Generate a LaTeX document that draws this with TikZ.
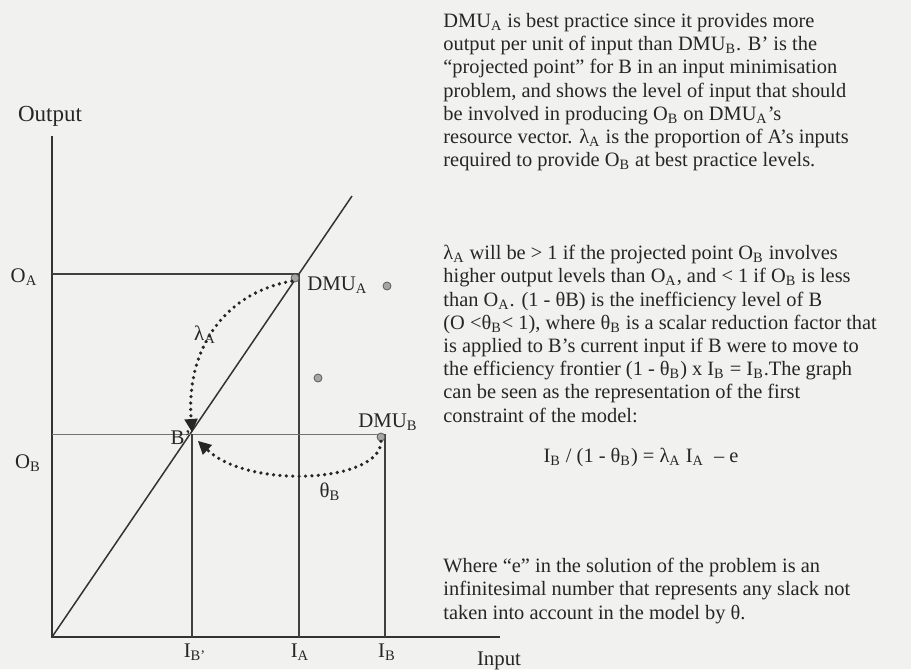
\documentclass[tikz,border=0pt]{standalone}
\usepackage{fontspec}
\setmainfont{Liberation Serif}
\usetikzlibrary{arrows.meta,positioning}
\definecolor{paper}{RGB}{241,241,239}

\begin{document}
\begin{tikzpicture}[x=0.5pt,y=-0.5pt,every node/.style={font=\fontsize{10.4}{12}\selectfont,inner sep=0pt,text=black!85},
  ax/.style={draw=black!80,line width=0.75pt},
  guide/.style={draw=black!75,line width=0.6pt},
  dmu/.style={circle,draw=black!65,fill=black!35,line width=0.4pt,minimum size=4pt},
  move/.style={draw=black!85,line width=1.8pt,dash pattern=on 0pt off 3.2pt,line cap=round,
    -{Triangle[width=6.8pt,length=6.5pt,line width=0pt]}},
  para/.style={anchor=north west,align=left,font=\fontsize{10.2}{11.6}\selectfont}]
  \fill[paper] (0,0) rectangle (911,669);
  % axes and frontier ray
  \coordinate (o) at (52,637); \coordinate (ytop) at (52,136); \coordinate (xend) at (500,637);
  \coordinate (ray) at (352,196);
  \coordinate (cA) at (299,274); \coordinate (cB) at (385,434); \coordinate (bp) at (192,434);
  \draw[ax] (ytop) -- (o) -- (xend);
  \draw[ax] (o) -- (ray);
  \draw[guide] (o |- cA) -- (cA) -- (cA |- o);
  \draw[black!55,line width=0.35pt] (o |- cB) -- (cB);
  \draw[guide] (cB) -- (cB |- o);
  \draw[guide] (bp) -- (bp |- o);
  % units
  \node[dmu] (dmuA) at (295,278) {};
  \node[dmu] (dmuB) at (381,437) {};
  \node[dmu] (dmuC) at (387,286) {};
  \node[dmu] (dmuD) at (318,378) {};
  % projections
  \coordinate (tipL) at (192,432); \coordinate (tipT) at (198,441);
  \draw[move] (dmuA.south west) .. controls (228,292) and (186,345) .. (tipL);
  \draw[move] (dmuB.south) .. controls (381,482) and (250,490) .. (tipT);
  % labels
  \node (outp) at (50,116) {\fontsize{11.5}{13}\selectfont Output};
  \node (inp) at (499,661) {Input};
  \node (oA) at (24,277) {O\textsubscript{A}};
  \node (oB) at (28,463) {O\textsubscript{B}};
  \node[anchor=west] (lA) at (307,285) {DMU\textsubscript{A}};
  \node (lB) at (388,422) {DMU\textsubscript{B}};
  \node (lBp) at (181,438) {B’};
  \node (lam) at (205,335) {λ\textsubscript{A}};
  \node (the) at (330,492) {θ\textsubscript{B}};
  \node (iBp) at (195,652) {I\textsubscript{B’}};
  \node (iA) at (300,652) {I\textsubscript{A}};
  \node (iB) at (387,652) {I\textsubscript{B}};
  % explanation
  \node[para] (t1) at (443,13) {DMU\textsubscript{A} is best practice since it provides more\\
    output per unit of input than DMU\textsubscript{B}. B’ is the\\
    “projected point” for B in an input minimisation\\
    problem, and shows the level of input that should\\
    be involved in producing O\textsubscript{B} on DMU\textsubscript{A}’s\\
    resource vector. λ\textsubscript{A} is the proportion of A’s inputs\\
    required to provide O\textsubscript{B} at best practice levels.};
  \node[para] (t2) at (443,245) {λ\textsubscript{A} will be > 1 if the projected point O\textsubscript{B} involves\\
    higher output levels than O\textsubscript{A}, and < 1 if O\textsubscript{B} is less\\
    than O\textsubscript{A}. (1 - θB) is the inefficiency level of B\\
    (O <θ\textsubscript{B}< 1), where θ\textsubscript{B} is a scalar reduction factor that\\
    is applied to B’s current input if B were to move to\\
    the efficiency frontier (1 - θ\textsubscript{B}) x I\textsubscript{B} = I\textsubscript{B}.The graph\\
    can be seen as the representation of the first\\
    constraint of the model:};
  \node[font=\fontsize{10.2}{11.6}\selectfont] (eq) at (641,457) {I\textsubscript{B} / (1 - θ\textsubscript{B}) = λ\textsubscript{A} I\textsubscript{A}\enspace – e};
  \node[para] (t3) at (443,558) {Where “e” in the solution of the problem is an\\
    infinitesimal number that represents any slack not\\
    taken into account in the model by θ.};
\end{tikzpicture}
\end{document}
